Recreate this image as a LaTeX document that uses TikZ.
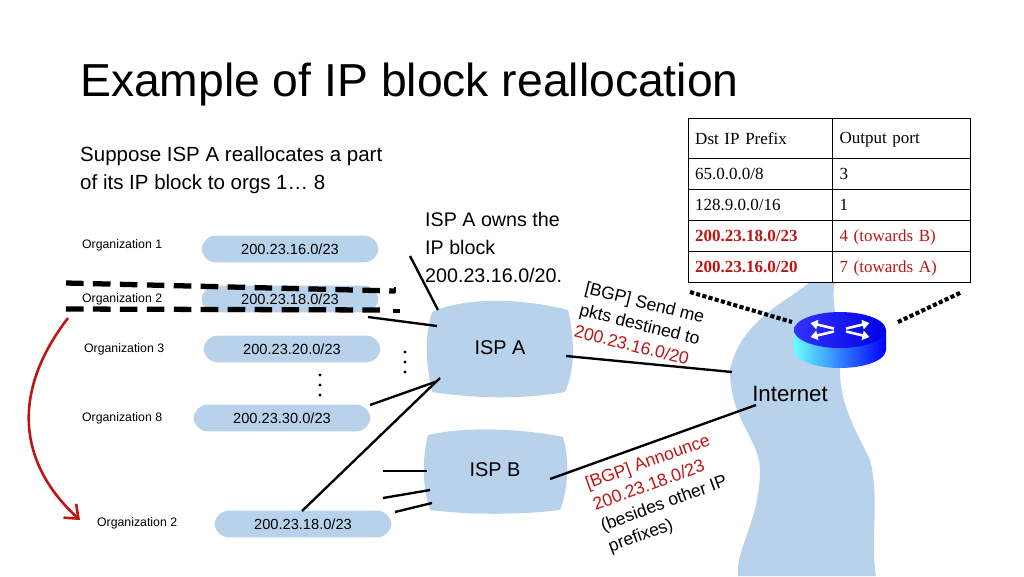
\documentclass[tikz,border=0pt]{standalone}
\usepackage{fontspec}
\setmainfont{Liberation Sans}
\newfontfamily\tabfont{Liberation Serif}
\usetikzlibrary{positioning,arrows.meta,shapes.geometric}
\definecolor{cloudblue}{RGB}{184,210,235}
\definecolor{darkred}{RGB}{190,20,20}
\tikzstyle{blob} = [fill=cloudblue, rounded corners=12pt, minimum height=0.8cm, minimum width=5.3cm, font=\fontsize{12.5}{14}\selectfont]
\tikzstyle{orglabel} = [font=\fontsize{10.5}{12}\selectfont, anchor=west]
\tikzstyle{cell} = [draw, minimum height=0.93cm, font=\tabfont\fontsize{14.5}{16}\selectfont, anchor=north west, inner sep=4pt, text depth=0pt]
\tikzstyle{colA} = [cell, minimum width=4.32cm, text width=3.9cm]
\tikzstyle{colB} = [cell, minimum width=4.14cm, text width=3.7cm]
\tikzstyle{link} = [line width=2pt]
\begin{document}
\begin{tikzpicture}[x=0.03cm,y=-0.03cm]
\useasboundingbox (0,0) rectangle (1024,576);
% title and notes
\node[anchor=west, font=\fontsize{39.5}{44}\selectfont] (title) at (76,85) {Example of IP block reallocation};
\node[anchor=north west, align=left, font=\fontsize{17.5}{24}\selectfont, inner sep=0pt] (note) at (80,146) {Suppose ISP A reallocates a part\\of its IP block to orgs 1\dots{} 8};
\node[anchor=north west, align=left, font=\fontsize{16.8}{24}\selectfont, inner sep=0pt] (owns) at (425,212) {ISP A owns the\\IP block\\200.23.16.0/20.};
% clouds
\fill[cloudblue] (432,312) .. controls (470,295) and (530,300) .. (568,310) .. controls (575,340) and (575,370) .. (565,392) .. controls (520,400) and (470,398) .. (432,392) .. controls (425,360) and (425,335) .. (432,312) -- cycle;
\node[font=\fontsize{17}{18}\selectfont] (ispa) at (500,348) {ISP A};
\fill[cloudblue] (428,435) .. controls (470,425) and (530,430) .. (563,437) .. controls (570,460) and (568,490) .. (560,510) .. controls (520,515) and (470,515) .. (430,510) .. controls (422,485) and (422,460) .. (428,435) -- cycle;
\node[font=\fontsize{17}{18}\selectfont] (ispb) at (495,470) {ISP B};
\fill[cloudblue] (810,282) .. controls (790,300) and (740,320) .. (730,370) .. controls (730,420) and (760,440) .. (760,470) .. controls (760,520) and (735,550) .. (738,576) -- (876,576) .. controls (870,540) and (880,500) .. (870,460) .. controls (850,420) and (840,400) .. (840,370) .. controls (840,330) and (830,300) .. (835,282) -- cycle;
\node[font=\fontsize{19}{20}\selectfont] (inet) at (790,394) {Internet};
% organizations
\node[blob] (b1) at (290,249) {200.23.16.0/23};
\node[blob] (b2) at (290,299) {200.23.18.0/23};
\node[blob] (b3) at (292,349) {200.23.20.0/23};
\node[blob] (b8) at (282,418) {200.23.30.0/23};
\node[blob] (b9) at (303,524) {200.23.18.0/23};
\node[orglabel] (o1) at (78,245) {Organization 1};
\node[orglabel] (o2) at (78,299) {Organization 2};
\node[orglabel] (o3) at (80,349) {Organization 3};
\node[orglabel] (o8) at (78,418) {Organization 8};
\node[orglabel] (o9) at (93,523) {Organization 2};
\foreach \x/\y in {405/352,405/362,405/372,320/375,320/385,320/395}
  \fill (\x,\y) circle (1.6);
% links
\coordinate (a1) at (438,310); \coordinate (a2) at (437,326); \coordinate (a8) at (435,382);
\coordinate (a9) at (440,378); \coordinate (ai) at (566,356); \coordinate (ia) at (732,372);
\coordinate (bi) at (550,479); \coordinate (ib) at (756,405);
\draw[link] (410,256) -- (a1);
\draw[link] (368,317) -- (a2);
\draw[link] (370,405) -- (a8);
\draw[link] (302,511) -- (a9);
\draw[link] (ai) -- (ia);
\draw[link] (bi) -- (ib);
\draw[link] (383,471) -- (427,471);
\draw[link] (383,498) -- (430,490);
\draw[link] (395,512) -- (432,503);
% crossing out
\draw[line width=4.5pt, dash pattern=on 15pt off 8pt] (66,283) -- (395,291);
\draw[line width=4.5pt, dash pattern=on 15pt off 8pt] (66,309) -- (385,310);
\draw[line width=1.5pt] (395,287) -- (395,293);
\draw[line width=4pt] (393,311) -- (400,311);
\draw[darkred, line width=2.2pt, -{Straight Barb[length=10pt,width=16pt]}] (68,318) .. controls (5,400) and (25,470) .. (80,520);
% router
\draw[line width=3.5pt, dotted] (690,292) -- (792,322);
\draw[line width=3.5pt, dotted] (898,322) -- (962,292);
\begin{scope}[shift={(840,330)}]
\shade[left color=cyan!60!white, right color=blue] (-46,0) -- (-46,20) arc (180:0:46 and 18) -- (46,0) -- cycle;
\shade[left color=blue!80!white, right color=blue!90!black] (0,0) ellipse (46 and 18);
\node (router) at (0,8) {};
\foreach \a in {-30,-150,150,30}
  \draw[white, line width=2.2pt, -{Triangle[length=6pt,width=8pt]}] (\a:7 and 3) -- (\a:34 and 14);
\end{scope}
% table
\node[colA, minimum height=1.2cm] (p0) at (688,118) {Dst IP Prefix};
\node[colB, minimum height=1.2cm] (q0) at (832,118) {Output port};
\node[colA] (p1) at (688,158) {65.0.0.0/8};
\node[colB] (q1) at (832,158) {3};
\node[colA] (p2) at (688,189) {128.9.0.0/16};
\node[colB] (q2) at (832,189) {1};
\node[colA, text=darkred] (p3) at (688,220) {\textbf{200.23.18.0/23}};
\node[colB, text=darkred] (q3) at (832,220) {4 (towards B)};
\node[colA, text=darkred] (p4) at (688,251) {\textbf{200.23.16.0/20}};
\node[colB, text=darkred] (q4) at (832,251) {7 (towards A)};
% BGP messages
\node[rotate=-14, anchor=north west, align=left, font=\fontsize{15}{19}\selectfont, inner sep=0pt] (send) at (587,281) {[BGP] Send me\\pkts destined to\\\textcolor{darkred}{200.23.16.0/20}};
\node[rotate=20, anchor=south west, align=left, font=\fontsize{15}{19}\selectfont, inner sep=0pt] (ann) at (612,556) {\textcolor{darkred}{[BGP] Announce}\\\textcolor{darkred}{200.23.18.0/23}\\(besides other IP\\prefixes)};
\end{tikzpicture}
\end{document}
